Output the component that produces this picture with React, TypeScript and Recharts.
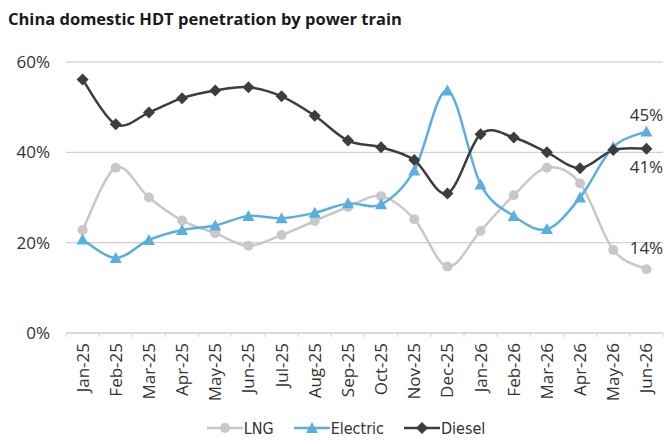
import { LineChart, Line, XAxis, YAxis, CartesianGrid } from 'recharts'

const months = [
  'Jan-25', 'Feb-25', 'Mar-25', 'Apr-25', 'May-25', 'Jun-25', 'Jul-25', 'Aug-25', 'Sep-25',
  'Oct-25', 'Nov-25', 'Dec-25', 'Jan-26', 'Feb-26', 'Mar-26', 'Apr-26', 'May-26', 'Jun-26',
]
const lng = [22.8, 36.6, 30.0, 24.9, 22.1, 19.3, 21.7, 24.8, 27.9, 30.3, 25.2, 14.7, 22.6, 30.5, 36.6, 33.1, 18.4, 14.1]
const electric = [20.7, 16.6, 20.6, 22.8, 23.8, 25.9, 25.4, 26.6, 28.7, 28.5, 36.0, 53.7, 32.9, 25.9, 23.0, 30.0, 41.2, 44.6]
const diesel = [56.1, 46.2, 48.8, 52.0, 53.7, 54.4, 52.4, 48.1, 42.6, 41.1, 38.3, 30.9, 44.0, 43.3, 40.0, 36.5, 40.5, 40.8]
const yTicks = [0, 20, 40, 60]

const data = months.map((m, i) => ({ month: m, LNG: lng[i], Electric: electric[i], Diesel: diesel[i] }))

const W = 672
const H = 445
const LEFT = 66
const RIGHT = 9
const BAND = (W - LEFT - RIGHT) / months.length
const FONT = '"Open Sans", sans-serif'
const TEXT = '#333333'

const COLORS = { LNG: '#c8c8c8', Electric: '#5aaee0', Diesel: '#3d3d3d' }

// excel-like smoothed line (catmull-rom through the points)
const smooth = (context: any) => {
  let pts: number[][] = []
  return {
    areaStart() {},
    areaEnd() {},
    lineStart() { pts = [] },
    point(x: number, y: number) { pts.push([+x, +y]) },
    lineEnd() {
      if (!pts.length) return
      context.moveTo(pts[0][0], pts[0][1])
      for (let i = 0; i < pts.length - 1; i++) {
        const p0 = pts[i - 1] || pts[i]
        const p1 = pts[i]
        const p2 = pts[i + 1]
        const p3 = pts[i + 2] || p2
        context.bezierCurveTo(
          p1[0] + (p2[0] - p0[0]) / 6, p1[1] + (p2[1] - p0[1]) / 6,
          p2[0] - (p3[0] - p1[0]) / 6, p2[1] - (p3[1] - p1[1]) / 6,
          p2[0], p2[1],
        )
      }
    },
  }
}

const marker = (shape: string, color: string, cx: number, cy: number, key?: any) => {
  if (shape === 'circle') return <circle key={key} cx={cx} cy={cy} r={5} fill={color} />
  if (shape === 'triangle')
    return <polygon key={key} points={`${cx},${cy - 6} ${cx + 6},${cy + 5} ${cx - 6},${cy + 5}`} fill={color} />
  return <polygon key={key} points={`${cx},${cy - 6} ${cx + 6},${cy} ${cx},${cy + 6} ${cx - 6},${cy}`} fill={color} />
}

const dotFor = (shape: string, color: string) => (p: any) =>
  marker(shape, color, p.cx, p.cy, `${shape}-${p.index}`)

const endLabel = (dy: number) => (p: any) => {
  if (p.index !== months.length - 1) return null
  return (
    <text key="end" x={p.x} y={p.y + dy} textAnchor="middle" dy="0.35em" fontSize={17} fill={TEXT} fontFamily={FONT}>
      {Math.round(p.value)}%
    </text>
  )
}

const MonthTick = (props: any) => {
  const { x, y, payload, index } = props
  return (
    <g>
      <line x1={x - BAND / 2} x2={x - BAND / 2} y1={y} y2={y + 4} stroke="#d0d0d0" />
      {index === months.length - 1 && (
        <line x1={x + BAND / 2} x2={x + BAND / 2} y1={y} y2={y + 4} stroke="#d0d0d0" />
      )}
      <text
        transform={`translate(${x},${y + 10}) rotate(-90)`}
        textAnchor="end"
        dy="0.35em"
        fontSize={17}
        fill={TEXT}
        fontFamily={FONT}
      >
        {payload.value}
      </text>
    </g>
  )
}

const series = [
  { key: 'LNG', shape: 'circle', dy: -21 },
  { key: 'Electric', shape: 'triangle', dy: -17 },
  { key: 'Diesel', shape: 'diamond', dy: 18 },
]

export default function App() {
  return (
    <div style={{ position: 'absolute', left: 0, top: 0, width: W, height: H, background: '#fff' }}>
      <div
        style={{
          position: 'absolute', left: 8, top: 8, fontFamily: FONT, fontWeight: 700,
          fontSize: 16.5, color: '#1a1a1a', lineHeight: '22px', whiteSpace: 'nowrap',
        }}
      >
        China domestic HDT penetration by power train
      </div>
      <LineChart width={W} height={H} data={data} margin={{ top: 62, right: RIGHT, bottom: 32, left: 0 }}>
        <CartesianGrid vertical={false} stroke="#c6c6c6" />
        <XAxis
          dataKey="month"
          interval={0}
          height={80}
          padding={{ left: BAND / 2, right: BAND / 2 }}
          tickLine={false}
          tickSize={0}
          tickMargin={0}
          axisLine={{ stroke: '#d0d0d0' }}
          tick={<MonthTick />}
        />
        <YAxis
          width={LEFT}
          domain={[0, 60]}
          ticks={yTicks}
          tickFormatter={(v) => `${v}%`}
          axisLine={false}
          tickLine={false}
          tickMargin={10}
          tick={{ fontSize: 17, fill: TEXT, fontFamily: FONT }}
        />
        {series.map((s) => (
          <Line
            key={s.key}
            dataKey={s.key}
            type={smooth as any}
            stroke={(COLORS as any)[s.key]}
            strokeWidth={2.5}
            dot={dotFor(s.shape, (COLORS as any)[s.key])}
            activeDot={false}
            label={endLabel(s.dy)}
            isAnimationActive={false}
          />
        ))}
      </LineChart>
      <div
        style={{
          position: 'absolute', left: 0, top: 416, width: W, display: 'flex', justifyContent: 'center',
          gap: 20, fontFamily: '"DejaVu Sans Condensed", "DejaVu Sans", sans-serif', fontSize: 16, color: TEXT,
          transform: 'translateX(10px)',
        }}
      >
        {series.map((s) => (
          <div key={s.key} style={{ display: 'flex', alignItems: 'center', height: 24 }}>
            <svg width={36} height={14}>
              <line x1={0} x2={36} y1={7} y2={7} stroke={(COLORS as any)[s.key]} strokeWidth={2.5} />
              {marker(s.shape, (COLORS as any)[s.key], 18, 7)}
            </svg>
            <span style={{ marginLeft: 1 }}>{s.key}</span>
          </div>
        ))}
      </div>
    </div>
  )
}
